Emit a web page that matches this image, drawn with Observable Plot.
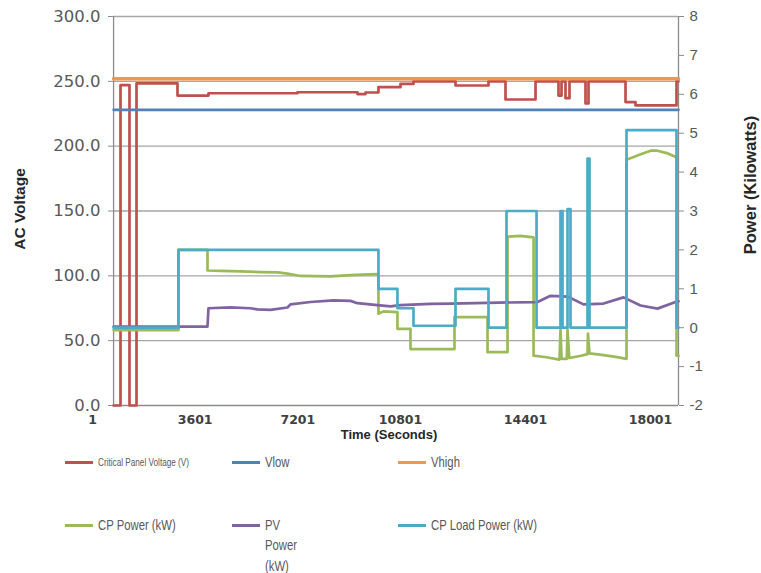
<!DOCTYPE html>
<html><head><meta charset="utf-8">
<script src="https://cdn.jsdelivr.net/npm/d3@7"></script>
<script src="https://cdn.jsdelivr.net/npm/@observablehq/plot@0.6"></script>
<style>
body{margin:0;background:#fff;}
#wrap{position:relative;width:761px;height:573px;overflow:hidden;background:#fff;}
#chart{position:absolute;left:0;top:0;}
.sw{position:absolute;height:3px;width:28px;}
.lt{position:absolute;color:#595959;font-family:"Liberation Sans",sans-serif;font-size:14.5px;line-height:20.5px;white-space:nowrap;transform:scaleX(0.78);transform-origin:0 50%;}
</style></head><body>
<div id="wrap"><div id="chart"></div></div>
<script>
// ---- tick labels ----
const timeTicks = [1, 3601, 7201, 10801, 14401, 18001];
const voltTicks = [0, 50, 100, 150, 200, 250, 300];
const powerTicks = [-2, -1, 0, 1, 2, 3, 4, 5, 6, 7, 8];
const tStart = 740, tEnd = 18807;

// ---- thresholds (V) ----
const vLow = 228;
const vHigh = 252;

// ---- Critical Panel Voltage (V), step changes ----
const panelT = [740, 983, 1298, 1544, 2981, 4068, 7188, 9292, 9573, 10028, 10801, 11175, 12385, 13335, 13825, 14690, 15351, 15438, 15553, 15668, 16129, 16215, 17281, 17569, 18750, 18807];
const panelV = [0, 247, 0, 248.5, 239, 240.8, 241.6, 240.2, 241.4, 245.5, 248, 250, 246.8, 250, 236, 250, 239, 250, 237, 250, 233, 250, 234, 231.4, 250, 250];

// ---- CP Load Power (kW), step changes ----
const loadT = [740, 3016, 10028, 10694, 11175, 12385, 13335, 13854, 14719, 15409, 15467, 15611, 15697, 16187, 16244, 17310, 18750, 18807];
const loadKW = [0, 2.0, 1.0, 0.5, 0.05, 1.0, 0, 3.0, 0, 3.0, 0, 3.05, 0, 4.35, 0, 5.08, 0, 0];

// ---- CP Power (kW) ----
const cpT = [740, 3016, 3016, 4033, 4033, 4500, 5200, 5900, 6500, 6838, 7293, 8345, 9046, 9700, 10028, 10028, 10204, 10694, 10694, 11089, 11089, 12356, 12356, 13307, 13307, 13883, 13883, 14250, 14633, 14633, 15000, 15380, 15409, 15440, 15590, 15611, 15660, 16000, 16187, 16200, 16244, 16600, 17000, 17310, 17310, 17700, 18001, 18200, 18500, 18750, 18750, 18807];
const cpKW = [-0.06, -0.06, 2.0, 2.0, 1.47, 1.46, 1.45, 1.43, 1.42, 1.39, 1.33, 1.32, 1.35, 1.37, 1.38, 0.36, 0.42, 0.4, -0.03, -0.03, -0.55, -0.55, 0.27, 0.27, -0.63, -0.63, 2.34, 2.36, 2.32, -0.72, -0.76, -0.82, -0.05, -0.8, -0.8, -0.05, -0.78, -0.72, -0.68, -0.15, -0.66, -0.7, -0.75, -0.8, 4.32, 4.45, 4.55, 4.55, 4.48, 4.38, -0.72, -0.72];

// ---- PV Power (kW) ----
const pvT = [740, 4033, 4068, 4839, 5540, 5786, 6242, 6838, 6943, 7644, 8450, 9046, 9292, 9993, 10449, 10801, 11665, 12241, 13307, 14749, 15121, 15611, 16071, 16647, 17223, 17713, 18203, 18721, 18807];
const pvKW = [0.03, 0.03, 0.5, 0.52, 0.5, 0.47, 0.46, 0.52, 0.6, 0.66, 0.7, 0.69, 0.63, 0.58, 0.55, 0.58, 0.61, 0.62, 0.64, 0.66, 0.82, 0.8, 0.6, 0.62, 0.78, 0.57, 0.49, 0.66, 0.68];

// ---- legend ----
const seriesNames = ["Critical Panel Voltage (V)", "Vlow", "Vhigh", "CP Power (kW)", "PV<br>Power<br>(kW)", "CP Load Power (kW)"];
const seriesColors = ["#c0504d", "#4f81bd", "#f79646", "#9bbb59", "#8064a2", "#4bacc6"];

// secondary axis (-2..8 kW) mapped onto primary (0..300 V)
const p2v = p => (p + 2) * 30;

const zip = (T, Y, f = v => v) => T.map((t, i) => ({t, v: f(Y[i])}));
const panel = zip(panelT, panelV);
const load = zip(loadT, loadKW, p2v);
const cp = zip(cpT, cpKW, p2v);
const pv = zip(pvT, pvKW, p2v);
const flat = (v) => [{t: tStart, v}, {t: tEnd, v}];

const chart = Plot.plot({
  width: 761, height: 450,
  marginTop: 16, marginBottom: 45, marginLeft: 113, marginRight: 83,
  style: {background: "#fff", fontFamily: "DejaVu Sans"},
  x: {type: "linear", domain: [1, 10801, 18807], range: [92, 400, 678], axis: null},
  y: {domain: [0, 300], axis: null},
  marks: [
    Plot.ruleY(voltTicks.filter(v => v > 0), {x1: () => tStart, x2: () => tEnd, stroke: "#a6a6a6", strokeWidth: 1.3}),
    Plot.ruleX([tStart, tEnd], {y1: () => 0, y2: () => 300, stroke: "#8c8c8c", strokeWidth: 1.3}),
    Plot.ruleY([0], {x1: () => tStart, x2: () => tEnd, stroke: "#8c8c8c", strokeWidth: 1.3}),
    Plot.axisY(voltTicks, {anchor: "left", label: null, tickSize: 5, tickPadding: 8, tickFormat: d => d.toFixed(1), fontSize: 16.5, fill: "#595959", stroke: "#8c8c8c", fontFamily: "DejaVu Sans"}),
    Plot.axisY(powerTicks.map(p2v), {anchor: "right", label: null, tickSize: 5, tickPadding: 6, tickFormat: v => String(Math.round(v / 30 - 2)), fontSize: 15, fill: "#595959", stroke: "#8c8c8c", fontFamily: "Liberation Sans"}),
    Plot.axisX(timeTicks, {anchor: "bottom", label: null, tickSize: 0, tickPadding: 10, tickFormat: d => String(d), fontSize: 12.5, fontWeight: "bold", fill: "#404040", fontFamily: "DejaVu Sans"}),
    Plot.text(["AC Voltage"], {frameAnchor: "left", textAnchor: "middle", dx: -93, dy: -2, rotate: -90, text: d => d, fontSize: 15.5, fontWeight: "bold", fill: "#262626", fontFamily: "Liberation Sans"}),
    Plot.text(["Power (Kilowatts)"], {frameAnchor: "right", textAnchor: "middle", dx: 72, dy: -26, rotate: -90, text: d => d, fontSize: 16.5, fontWeight: "bold", fill: "#262626", fontFamily: "Liberation Sans"}),
    Plot.text(["Time (Seconds)"], {frameAnchor: "bottom", textAnchor: "middle", dx: -7, dy: 33, text: d => d, fontSize: 13, fontWeight: "bold", fill: "#262626", fontFamily: "Liberation Sans"}),
    Plot.line(panel, {x: "t", y: "v", curve: "step-after", stroke: seriesColors[0], strokeWidth: 2.7}),
    Plot.line(flat(vLow), {x: "t", y: "v", stroke: seriesColors[1], strokeWidth: 2.7}),
    Plot.line(flat(vHigh), {x: "t", y: "v", stroke: seriesColors[2], strokeWidth: 3.5}),
    Plot.line(cp, {x: "t", y: "v", stroke: seriesColors[3], strokeWidth: 2.7}),
    Plot.line(pv, {x: "t", y: "v", stroke: seriesColors[4], strokeWidth: 2.7}),
    Plot.line(load, {x: "t", y: "v", curve: "step-after", stroke: seriesColors[5], strokeWidth: 2.7})
  ]
});
document.getElementById("chart").appendChild(chart);

// legend layout (positions only)
const legendPos = [[65, 462], [232, 462], [398, 462], [65, 525], [232, 525], [398, 525]];
const wrap = document.getElementById("wrap");
seriesNames.forEach((name, i) => {
  const [x, y] = legendPos[i];
  const sw = document.createElement("div");
  sw.className = "sw";
  sw.style.left = x + "px"; sw.style.top = (y - 1.5) + "px"; sw.style.background = seriesColors[i];
  wrap.appendChild(sw);
  const lt = document.createElement("div");
  lt.className = "lt";
  lt.style.left = (x + 33) + "px"; lt.style.top = (y - 10.5) + "px";
  if (i === 0) { lt.style.fontSize = "10.5px"; }
  lt.innerHTML = name;
  wrap.appendChild(lt);
});
</script>
</body></html>
